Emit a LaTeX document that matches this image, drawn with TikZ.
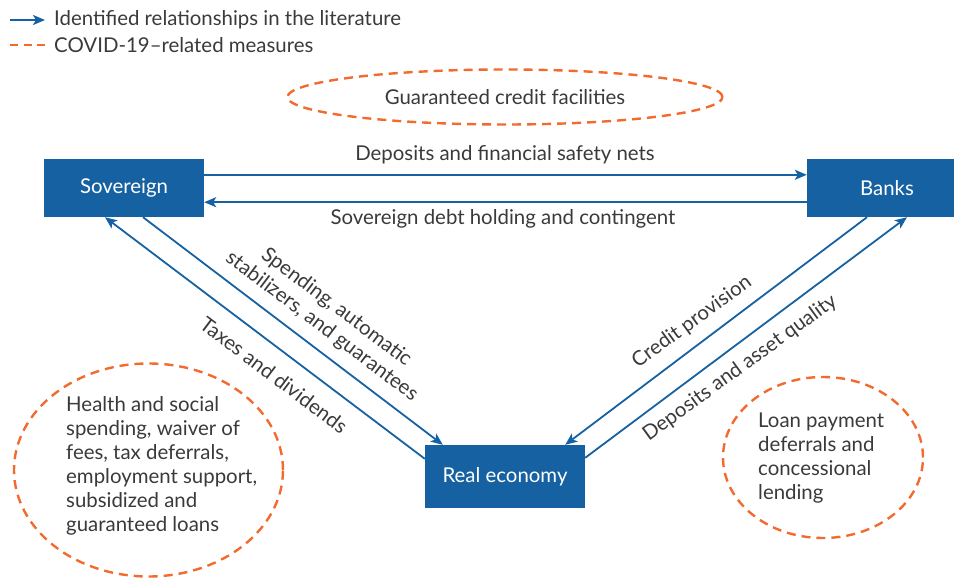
\documentclass[tikz,border=0pt]{standalone}
\usepackage{fontspec}
\setmainfont{Lato}
\usetikzlibrary{arrows.meta,shapes.geometric}
\definecolor{sectorblue}{HTML}{1661A1}
\definecolor{covidorange}{HTML}{F26A2E}
\definecolor{labelgray}{HTML}{3A3A3A}

\begin{document}
\begin{tikzpicture}[
    x = 1pt, y = -1pt,
    font = \fontsize{20.4}{24}\selectfont,
    text = labelgray,
    sector/.style = {fill = sectorblue, text = white, inner sep = 0pt,
                     minimum width = 160pt, minimum height = 58pt},
    flow/.style = {draw = sectorblue, line width = 1.8pt,
                   -{Stealth[length = 12pt, width = 10pt, inset = 3pt]}},
    measure/.style = {draw = covidorange, line width = 2.4pt,
                      dash pattern = on 9pt off 6pt},
    covid/.style = {measure, ellipse, inner sep = 0pt}]

\useasboundingbox (0,0) rectangle (954,578);

% legend
\coordinate (legFlowA) at (10,20);
\coordinate (legFlowB) at (45,20);
\coordinate (legCovA) at (10,45);
\coordinate (legCovB) at (45,45);
\draw[flow] (legFlowA) -- (legFlowB);
\draw[measure, dash pattern = on 8pt off 5.5pt] (legCovA) -- (legCovB);
\path (54,20) node[anchor = west, inner sep = 0pt] (legFlow) {Identified relationships in the literature}
      (54,45) node[anchor = west, inner sep = 0pt] (legCov) {COVID-19–related measures};

% sectors
\node[sector] (sov) at (124,188) {Sovereign};
\node[sector] (bank) at (887,188) {Banks};
\node[sector, minimum height = 63pt] (real) at (505,476.5) {Real economy};

% covid measures
\node[covid, minimum width = 435pt, minimum height = 55pt] (covTop) at (505,97) {Guaranteed credit facilities};
\node[covid, minimum width = 269pt, minimum height = 213pt] (covLeft) at (148.5,470) {};
\node[covid, minimum width = 200pt, minimum height = 161pt] (covRight) at (823,457.5) {};
\path (66,466) node[anchor = west, align = left, inner sep = 0pt] (covLeftTxt)
        {Health and social\\spending, waiver of\\fees, tax deferrals,\\employment support,\\subsidized and\\guaranteed loans}
      (758,458) node[anchor = west, align = left, inner sep = 0pt] (covRightTxt)
        {Loan payment\\deferrals and\\concessional\\lending};

% relationships
\draw[flow] ([yshift = -16pt]sov.north east) -- ([yshift = -16pt]bank.north west);
\draw[flow] ([yshift = 15pt]bank.south west) -- ([yshift = 15pt]sov.south east);
\draw[flow] ([xshift = 19pt]sov.south) -- ([xshift = 18pt]real.north west);
\draw[flow] ([yshift = -14pt]real.north west) -- ([xshift = -19pt]sov.south);
\draw[flow] ([xshift = -20pt]bank.south) -- ([xshift = -20pt]real.north east);
\draw[flow] ([yshift = -13pt]real.north east) -- ([xshift = 20pt]bank.south);

% relationship labels
\path (505,155) node (lblSafety) {Deposits and financial safety nets}
      (503,219) node (lblDebt) {Sovereign debt holding and contingent}
      (329,317) node[rotate = -37, align = center] (lblSpend) {Spending, automatic\\stabilizers, and guarantees}
      (274,375) node[rotate = -37] (lblTax) {Taxes and dividends}
      (692,322) node[rotate = 36] (lblCredit) {Credit provision}
      (740,368) node[rotate = 36] (lblDepo) {Deposits and asset quality};
\end{tikzpicture}
\end{document}
